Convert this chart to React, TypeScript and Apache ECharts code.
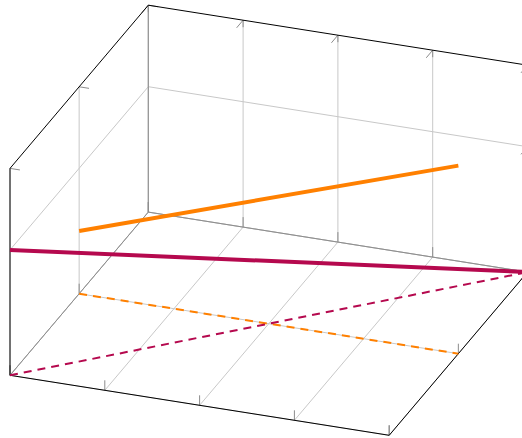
import React, { useEffect, useRef } from "react";
import * as echarts from "echarts";

// ---- axes (data units) ----
const xTicks = [0, 1, 2, 3, 4];
const yTicks = [0, 0.5, 1];
const zTicks = [0, 1];
const xRange = [0, 4];
const yRange = [0, 1];
const zRange = [0, 1.65];

// ---- series ----
const orangeX = [0, 4];
const orangeY = [0.5, 0.5];
const orangeZ = [0.5, 1.5];

const purpleX = [0, 4];
const purpleY = [0, 1];
const purpleZ = [1, 0];

// ---- layout of the 3D projection (pixels) ----
const W = 522;
const H = 438;
const ORIGIN = [10, 375.3];
const EX = [94.8, 15.0]; // per x unit
const EY = [138.3, -163.2]; // per full y range
const EZ = [0, -125.4]; // per z unit

function proj(x: number, y: number, z: number): number[] {
  const fx = x - xRange[0];
  const fy = (y - yRange[0]) / (yRange[1] - yRange[0]);
  const fz = z - zRange[0];
  return [
    ORIGIN[0] + fx * EX[0] + fy * EY[0] + fz * EZ[0],
    ORIGIN[1] + fx * EX[1] + fy * EY[1] + fz * EZ[1],
  ];
}
function unit(v: number[]) {
  const l = Math.hypot(v[0], v[1]);
  return [v[0] / l, v[1] / l];
}
const DX = unit(EX);
const DY = unit(EY);
const DZ = unit(EZ);

type Seg = number[];
function seg(a: number[], b: number[]): Seg {
  return [a[0], a[1], b[0], b[1]];
}
function tick(p: number[], d: number[], len: number): Seg {
  return [p[0], p[1], p[0] + d[0] * len, p[1] + d[1] * len];
}

const [x0, x1] = xRange;
const [y0, y1] = yRange;
const [z0, z1] = zRange;

function buildGrid(): Seg[] {
  const s: Seg[] = [];
  // floor
  xTicks.forEach((x) => s.push(seg(proj(x, y0, z0), proj(x, y1, z0))));
  yTicks.forEach((y) => s.push(seg(proj(x0, y, z0), proj(x1, y, z0))));
  // back wall
  xTicks.forEach((x) => s.push(seg(proj(x, y1, z0), proj(x, y1, z1))));
  zTicks.forEach((z) => s.push(seg(proj(x0, y1, z), proj(x1, y1, z))));
  // left wall
  yTicks.forEach((y) => s.push(seg(proj(x0, y, z0), proj(x0, y, z1))));
  zTicks.forEach((z) => s.push(seg(proj(x0, y0, z), proj(x0, y1, z))));
  return s;
}
function buildInner(): Seg[] {
  return [
    seg(proj(x0, y0, z0), proj(x0, y1, z0)),
    seg(proj(x0, y1, z0), proj(x1, y1, z0)),
    seg(proj(x0, y1, z0), proj(x0, y1, z1)),
  ];
}
function buildOuter(): Seg[] {
  return [
    seg(proj(x0, y0, z0), proj(x0, y0, z1)),
    seg(proj(x0, y0, z1), proj(x0, y1, z1)),
    seg(proj(x0, y1, z1), proj(x1, y1, z1)),
    seg(proj(x0, y0, z0), proj(x1, y0, z0)),
    seg(proj(x1, y0, z0), proj(x1, y1, z0)),
    seg(proj(x1, y1, z0), proj(x1, y1, z1)),
  ];
}
function buildTicks(): Seg[] {
  const s: Seg[] = [];
  const L = 10;
  xTicks.forEach((x) => {
    s.push(tick(proj(x, y0, z0), DZ, L));
    s.push(tick(proj(x, y1, z0), DZ, L));
    s.push(tick(proj(x, y1, z1), [-DY[0], -DY[1]], L));
    s.push(tick(proj(x, y1, z1), [-DZ[0], -DZ[1]], 7));
  });
  yTicks.forEach((y) => {
    s.push(tick(proj(x0, y, z1), DX, L));
    s.push(tick(proj(x1, y, z0), DZ, L));
    s.push(tick(proj(x0, y, z0), DZ, L));
  });
  zTicks.forEach((z) => {
    s.push(tick(proj(x1, y1, z), [-DY[0], -DY[1]], L));
  });
  return s;
}

function segSeries(name: string, data: Seg[], color: string, width: number) {
  return {
    type: "custom",
    name,
    silent: true,
    clip: true,
    encode: { x: [0, 2], y: [1, 3] },
    data,
    renderItem: (_p: any, api: any) => {
      const a = api.coord([api.value(0), api.value(1)]);
      const b = api.coord([api.value(2), api.value(3)]);
      return {
        type: "line",
        shape: { x1: a[0], y1: a[1], x2: b[0], y2: b[1] },
        style: { stroke: color, lineWidth: width, fill: null },
      };
    },
  };
}

function lineSeries(
  name: string,
  xs: number[],
  ys: number[],
  zs: number[] | null,
  color: string,
  width: number,
  dashed: boolean
) {
  return {
    type: "line",
    name,
    silent: true,
    symbol: "none",
    clip: true,
    data: xs.map((x, i) => proj(x, ys[i], zs ? zs[i] : z0)),
    lineStyle: {
      color,
      width,
      type: dashed ? [8, 6] : "solid",
      cap: "butt",
    },
  };
}

const ORANGE = "#ff8000";
const PURPLE = "#b5094e";

export default function App() {
  const ref = useRef<HTMLDivElement>(null);
  useEffect(() => {
    document.body.style.margin = "0";
    const chart = echarts.init(ref.current!, undefined, { renderer: "svg" });
    chart.setOption({
      animation: false,
      backgroundColor: "#ffffff",
      grid: { left: 0, right: 0, top: 0, bottom: 0 },
      xAxis: { type: "value", min: 0, max: W, show: false },
      yAxis: { type: "value", min: 0, max: H, inverse: true, show: false },
      series: [
        segSeries("grid", buildGrid(), "#c8c8c8", 1),
        segSeries("inner", buildInner(), "#8c8c8c", 1),
        segSeries("ticks", buildTicks(), "#8c8c8c", 1),
        lineSeries("orange-floor", orangeX, orangeY, null, ORANGE, 2, true),
        lineSeries("purple-floor", purpleX, purpleY, null, PURPLE, 2, true),
        lineSeries("orange", orangeX, orangeY, orangeZ, ORANGE, 4, false),
        segSeries("outer", buildOuter(), "#000000", 1),
        lineSeries("purple", purpleX, purpleY, purpleZ, PURPLE, 4, false),
      ],
    });
    return () => chart.dispose();
  }, []);
  return <div ref={ref} style={{ width: W, height: H }} />;
}
